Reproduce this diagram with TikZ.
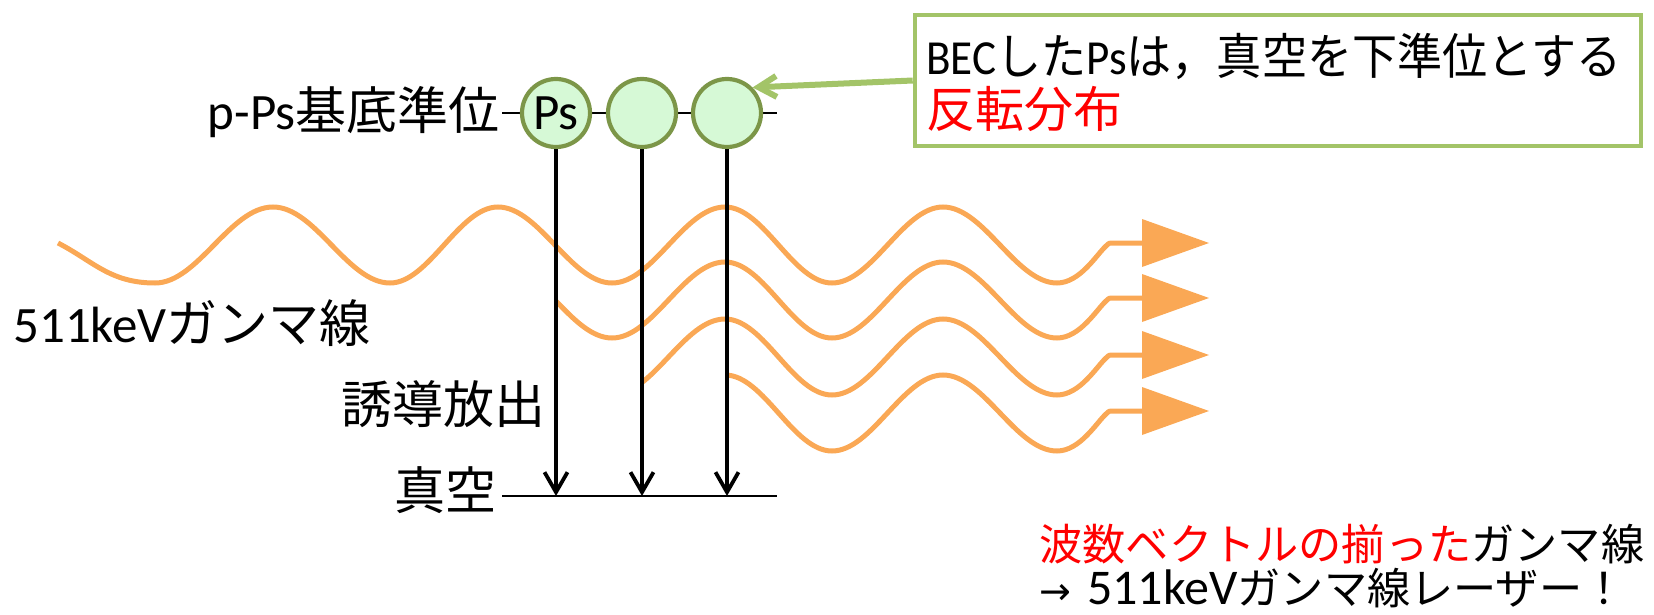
\documentclass[tikz,border=0pt]{standalone}
\usepackage{graphicx}
\usepackage{fontspec}
\setmainfont{Carlito}
\newfontfamily\jp{Noto Sans CJK JP}
\newfontfamily\dv{DejaVu Sans}
\usetikzlibrary{arrows.meta}
\definecolor{waveor}{RGB}{250,168,85}
\definecolor{boxgreen}{RGB}{163,196,104}
\definecolor{psfill}{RGB}{214,249,214}
\definecolor{psdraw}{RGB}{124,150,72}
\definecolor{jred}{RGB}{255,0,0}
\newcommand\wavepath{(58,243) .. controls (93,261) and (110,283) .. (155,283)
 .. controls (198,283) and (230,207) .. (273,207)
 .. controls (315.5,207) and (347.5,283) .. (390,283)
 .. controls (429,283) and (459,207) .. (498,207)
 .. controls (539,207) and (571,283) .. (612,283)
 .. controls (653,283) and (684,207) .. (725,207)
 .. controls (764,207) and (793,283) .. (832,283)
 .. controls (872,283) and (903,207) .. (943,207)
 .. controls (984,207) and (1016,283) .. (1057,283)
 .. controls (1080,283) and (1097,254) .. (1106,246)
 .. controls (1109,243) .. (1114,243) -- (1145,243)}
\begin{document}
\begin{tikzpicture}[x=0.5pt,y=-0.5pt,
  lbl/.style={inner sep=0pt, font=\fontsize{25.5}{28}\selectfont},
  boxtxt/.style={inner sep=0pt, font=\fontsize{24.5}{28}\selectfont},
  bottxt/.style={inner sep=0pt, font=\fontsize{21.6}{26}\selectfont},
  ps/.style={circle, minimum size=34pt, inner sep=0pt, fill=psfill, draw=psdraw, line width=2.1pt, font=\fontsize{25.5}{28}\selectfont},
  level/.style={line width=1.1pt},
  emit/.style={line width=1.9pt, -{Straight Barb[length=10pt,width=11.5pt]}},
  wave/.style={draw=waveor, line width=2.5pt},
  wavehead/.style={fill=waveor},
  callout/.style={draw=boxgreen, line width=2.3pt, fill=white, minimum width=363pt, minimum height=65.5pt, inner sep=0pt},
  pointer/.style={draw=boxgreen, line width=3pt, -{Straight Barb[length=9pt,width=10.5pt]}}
]
\useasboundingbox (0,0) rectangle (1654,615);

% waves
\foreach \off/\xs in {0/0, 55/556, 112/641, 168/728} {
  \begin{scope}
    \clip (\xs,0) rectangle (1654,615);
    \draw[wave, shift={(0,\off)}] \wavepath;
  \end{scope}
  \fill[wavehead, shift={(0,\off)}] (1142,219) -- (1209,243) -- (1142,267) -- cycle;
}

% levels
\coordinate (l0) at (502,113);
\coordinate (l1) at (777,113);
\coordinate (v0) at (502,496);
\coordinate (v1) at (777,496);
\draw[level] (l0) -- (l1);
\draw[level] (v0) -- (v1);

% positronium
\node[ps] (c1) at (556,113) {Ps};
\node[ps] (c2) at (642,113) {};
\node[ps] (c3) at (727,113) {};

\foreach \c in {c1,c2,c3}
  \draw[emit] (\c.south) -- (\c.south |- v0);

% labels
\node[lbl, anchor=base east] (lvl) at (500,130) {p-Ps{\jp 基底準位}};
\node[lbl, anchor=base west] (gamma) at (13,342) {511keV{\jp ガンマ線}};
\node[lbl, anchor=base west] (stim) at (341,423) {\jp 誘導放出};
\node[lbl, anchor=base east] (vac) at (497,509) {\jp 真空};

% callout
\node[callout] (box) at (1278,80.5) {};
\node[boxtxt, anchor=base west] (t1) at (926,75) {\scalebox{0.92}[1]{BEC{\jp した}Ps{\jp は，真空を下準位とする}}};
\node[boxtxt, anchor=base west, text=jred] (t2) at (926,127) {\jp 反転分布};
\draw[pointer] (box.west) -- (c3.45);

% conclusion
\node[bottxt, anchor=base west] (b1) at (1039,560) {{\jp\color{jred}波数ベクトルの揃った}{\jp ガンマ線}};
\node[bottxt, anchor=base west] (b2) at (1039,604) {{\dv\fontsize{19}{22}\selectfont →}\hspace{8pt}{\fontsize{25}{28}\selectfont 511keV}{\jp ガンマ線レーザー！}};
\end{tikzpicture}
\end{document}
